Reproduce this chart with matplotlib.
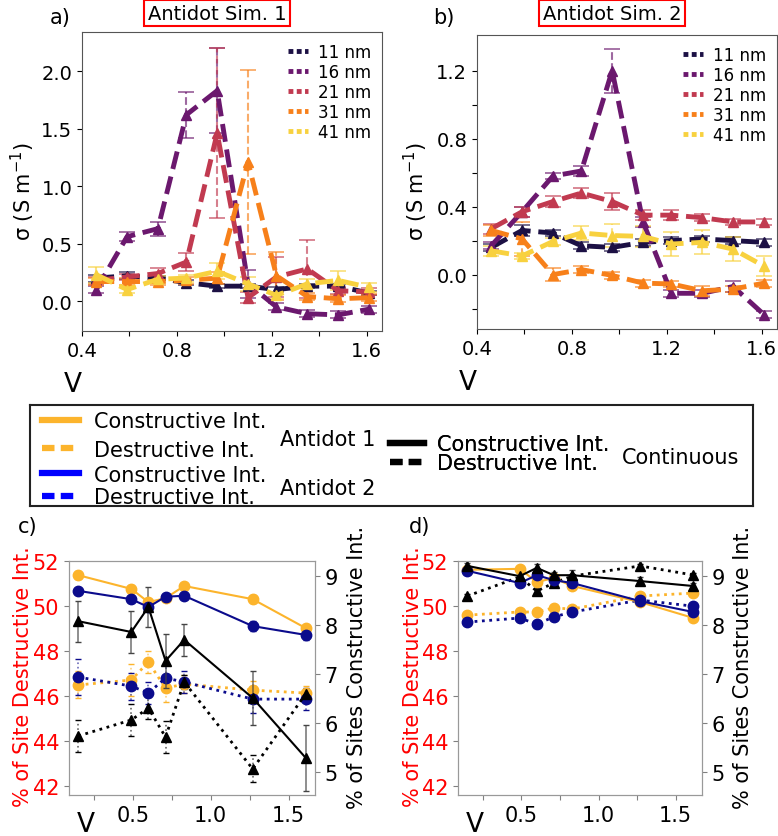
import matplotlib
matplotlib.use("Agg")
import matplotlib.pyplot as plt
from matplotlib.lines import Line2D

W, H = 778, 837

# ---------- panels a) b) : sigma vs bias ----------
volts = [0.46, 0.59, 0.72, 0.84, 0.97, 1.10, 1.22, 1.35, 1.48, 1.61]
widths = ['11 nm', '16 nm', '21 nm', '31 nm', '41 nm']
width_colors = ['#1c1044', '#6b186e', '#c13a50', '#f7801a', '#f8d13f']

# Antidot Sim. 1
s1_11 = [0.20, 0.22, 0.20, 0.16, 0.13, 0.13, 0.10, 0.13, 0.13, 0.07]
s1_16 = [0.10, 0.56, 0.63, 1.62, 1.83, 0.15, -0.05, -0.11, -0.12, -0.07]
s1_21 = [0.18, 0.21, 0.24, 0.34, 1.46, 0.03, 0.21, 0.28, 0.09, 0.08]
s1_31 = [0.17, 0.17, 0.17, 0.18, 0.20, 1.21, 0.22, 0.04, 0.02, 0.03]
s1_41 = [0.23, 0.10, 0.19, 0.20, 0.26, 0.15, 0.05, 0.15, 0.18, 0.12]
s1_11_err = [0.03, 0.03, 0.02, 0.02, 0.02, 0.02, 0.02, 0.02, 0.02, 0.02]
s1_16_err = [0.03, 0.04, 0.06, 0.20, 0.37, 0.12, 0.03, 0.03, 0.03, 0.03]
s1_21_err = [0.03, 0.03, 0.05, 0.08, 0.74, 0.05, 0.17, 0.25, 0.03, 0.03]
s1_31_err = [0.03, 0.03, 0.03, 0.03, 0.05, 0.80, 0.21, 0.03, 0.03, 0.03]
s1_41_err = [0.07, 0.03, 0.03, 0.03, 0.07, 0.06, 0.03, 0.04, 0.08, 0.04]

# Antidot Sim. 2
s2_11 = [0.16, 0.26, 0.245, 0.17, 0.16, 0.19, 0.20, 0.21, 0.20, 0.19]
s2_16 = [0.17, 0.37, 0.58, 0.61, 1.20, 0.31, -0.11, -0.11, -0.07, -0.235]
s2_21 = [0.27, 0.37, 0.43, 0.48, 0.43, 0.35, 0.35, 0.335, 0.31, 0.31]
s2_31 = [0.26, 0.21, 0.0, 0.03, -0.005, -0.05, -0.055, -0.095, -0.085, -0.05]
s2_41 = [0.14, 0.11, 0.195, 0.245, 0.23, 0.225, 0.18, 0.19, 0.15, 0.05]
s2_11_err = [0.02, 0.03, 0.02, 0.02, 0.02, 0.02, 0.02, 0.02, 0.02, 0.02]
s2_16_err = [0.02, 0.03, 0.02, 0.03, 0.13, 0.03, 0.02, 0.02, 0.03, 0.02]
s2_21_err = [0.03, 0.03, 0.03, 0.03, 0.05, 0.03, 0.03, 0.02, 0.02, 0.02]
s2_31_err = [0.03, 0.10, 0.04, 0.02, 0.02, 0.02, 0.02, 0.03, 0.02, 0.02]
s2_41_err = [0.03, 0.02, 0.02, 0.04, 0.07, 0.06, 0.07, 0.07, 0.07, 0.06]

# ---------- panels c) d) : % of sites ----------
pos_v = [0.15, 0.49, 0.60, 0.71, 0.83, 1.27, 1.61]
ad1_color = '#fcb42c'
ad2_color = '#0b0b8c'
cont_color = 'black'

# c) constructive (right axis)
c_ad1_con = [9.01, 8.73, 8.46, 8.54, 8.79, 8.52, 7.93]
c_ad2_con = [8.69, 8.52, 8.36, 8.57, 8.59, 7.97, 7.79]
c_cont_con = [8.07, 7.85, 8.36, 7.26, 7.69, 6.50, 5.28]
c_ad1_con_err = [0.08, 0.08, 0.06, 0.06, 0.05, 0.08, 0.06]
c_ad2_con_err = [0.06, 0.05, 0.06, 0.05, 0.05, 0.10, 0.10]
c_cont_con_err = [0.42, 0.42, 0.40, 0.55, 0.33, 0.55, 0.67]
# c) destructive (left axis)
c_ad1_des = [46.50, 46.72, 47.52, 46.36, 46.54, 46.27, 46.14]
c_ad2_des = [46.85, 46.45, 46.14, 46.81, 46.63, 45.87, 45.87]
c_cont_des = [44.23, 44.94, 45.47, 44.18, 46.63, 42.76, 46.10]
c_ad1_des_err = [0.6, 0.7, 0.5, 0.6, 0.4, 0.4, 0.3]
c_ad2_des_err = [0.8, 0.6, 0.5, 0.6, 0.5, 0.6, 0.5]
c_cont_des_err = [0.7, 0.7, 0.5, 0.7, 0.3, 0.6, 0.2]

# d) constructive (right axis)
d_ad1_con = [9.12, 9.14, 8.87, 8.95, 8.79, 8.46, 8.14]
d_ad2_con = [9.10, 8.85, 9.01, 8.91, 8.85, 8.48, 8.26]
d_cont_con = [9.20, 8.99, 9.16, 9.01, 9.01, 8.89, 8.79]
d_ad1_con_err = [0.04, 0.04, 0.04, 0.04, 0.04, 0.04, 0.04]
d_ad2_con_err = [0.04, 0.04, 0.04, 0.04, 0.04, 0.04, 0.04]
d_cont_con_err = [0.06, 0.06, 0.08, 0.07, 0.10, 0.08, 0.07]
# d) destructive (left axis)
d_ad1_des = [49.61, 49.75, 49.75, 49.93, 49.88, 50.46, 50.59]
d_ad2_des = [49.30, 49.48, 49.21, 49.53, 49.75, 50.28, 50.01]
d_cont_des = [50.46, 51.31, 50.68, 51.04, 51.35, 51.80, 51.40]
d_ad1_des_err = [0.08, 0.08, 0.08, 0.08, 0.08, 0.08, 0.08]
d_ad2_des_err = [0.08, 0.08, 0.08, 0.08, 0.08, 0.08, 0.08]
d_cont_des_err = [0.1, 0.1, 0.1, 0.1, 0.1, 0.1, 0.1]


def px_axes(left, top, right, bottom):
    return [left / W, 1 - bottom / H, (right - left) / W, (bottom - top) / H]


""" sigma panel with dashed errorbar lines
"""
def plot_sigma(ax, series, errors, ylim, ymajor, ylabels, ylab_x):
    for vals, errs, col in zip(series, errors, width_colors):
        eb = ax.errorbar(volts, vals, yerr=errs, color=col, ls='--', lw=3.5,
                         marker='^', ms=7, ecolor=col, elinewidth=1.5,
                         capsize=6, capthick=1.3)
        eb[2][0].set_linestyle('--')
        eb[2][0].set_alpha(0.65)
        for cap in eb[1]:
            cap.set_alpha(0.65)
    ax.set_xlim(0.4, 1.665)
    ax.set_ylim(*ylim)
    ax.set_xticks([0.4, 0.6, 0.8, 1.0, 1.2, 1.4, 1.6])
    ax.set_xticklabels(['0.4', '', '0.8', '', '1.2', '', '1.6'])
    ax.set_yticks(ymajor)
    ax.set_yticklabels(ylabels)
    ax.tick_params(labelsize=14)
    for sp in ax.spines.values():
        sp.set_color('#555555')
    ax.set_ylabel(r'$\mathrm{\sigma}$ (S m$^{-1}$)', fontsize=15)
    ax.yaxis.set_label_coords(ylab_x, 0.47)
    ax.set_xlabel('V', fontsize=19)
    ax.xaxis.set_label_coords(-0.03, -0.135)
    handles = [Line2D([], [], color=c, lw=3.5, ls=(0, (1, 0.7))) for c in width_colors]
    ax.legend(handles, widths, loc='upper right', fontsize=12, frameon=False,
              handlelength=1.2, labelspacing=0.12, handletextpad=0.6,
              borderaxespad=0.25)


""" percentage panel: destructive on the left axis, constructive on a twin
"""
def plot_sites(ax, con, con_err, des, des_err, lab_left, lab_right):
    cols = [ad1_color, ad2_color, cont_color]
    marks = ['o', 'o', '^']
    for vals, errs, col, mk in zip(des, des_err, cols, marks):
        eb = ax.errorbar(pos_v, vals, yerr=errs, color=col, ls=':', lw=2,
                         marker=mk, ms=7.5, ecolor=col, elinewidth=1.2, capsize=2.5)
        eb[2][0].set_linestyle(':')
        eb[2][0].set_alpha(0.6)
    ax2 = ax.twinx()
    for vals, errs, col, mk in zip(con, con_err, cols, marks):
        ecol = '#444444' if col == 'black' else col
        eb = ax2.errorbar(pos_v, vals, yerr=errs, color=col, ls='-', lw=1.5,
                          marker=mk, ms=7.5, ecolor=ecol, elinewidth=1.2, capsize=2.5)
        eb[2][0].set_alpha(0.7)
    ax.set_xlim(0.09, 1.67)
    ax.set_ylim(41.6, 52.02)
    ax2.set_ylim(4.52, 9.3)
    ax.set_xticks([0.25, 0.5, 0.75, 1.0, 1.25, 1.5])
    ax.set_xticklabels(['', '0.5', '', '1.0', '', '1.5'])
    ax.set_yticks([42, 44, 46, 48, 50, 52])
    ax2.set_yticks([5, 6, 7, 8, 9])
    ax.tick_params(labelsize=15, color='gray')
    ax.tick_params(axis='y', labelcolor='red')
    ax2.tick_params(labelsize=15, color='gray')
    for a in (ax, ax2):
        for sp in a.spines.values():
            sp.set_color('#999999')
    ax.set_ylabel('% of Site Destructive Int.', fontsize=15, color='red')
    ax.yaxis.set_label_coords(lab_left, 0.51)
    ax2.set_ylabel('% of Sites Constructive Int.', fontsize=15)
    ax2.yaxis.set_label_coords(lab_right, 0.55)
    ax.set_xlabel('V', fontsize=19)
    ax.xaxis.set_label_coords(0.07, -0.07)


fig = plt.figure(figsize=(W / 100, H / 100), dpi=100)

ax_a = fig.add_axes(px_axes(82, 33, 382, 332))
plot_sigma(ax_a, [s1_11, s1_16, s1_21, s1_31, s1_41],
           [s1_11_err, s1_16_err, s1_21_err, s1_31_err, s1_41_err],
           (-0.26, 2.34), [0.0, 0.5, 1.0, 1.5, 2.0],
           ['0.0', '0.5', '1.0', '1.5', '2.0'], -0.15)

ax_b = fig.add_axes(px_axes(477, 36, 777, 330))
plot_sigma(ax_b, [s2_11, s2_16, s2_21, s2_31, s2_41],
           [s2_11_err, s2_16_err, s2_21_err, s2_31_err, s2_41_err],
           (-0.32, 1.41), [-0.2, 0.0, 0.2, 0.4, 0.6, 0.8, 1.0, 1.2],
           ['', '0.0', '', '0.4', '', '0.8', '', '1.2'], -0.157)

box = dict(boxstyle='square,pad=0.2', fc='white', ec='red', lw=1.5)
fig.text(217 / W, 1 - 14 / H, 'Antidot Sim. 1', fontsize=14, ha='center', va='center', bbox=box)
fig.text(612 / W, 1 - 14 / H, 'Antidot Sim. 2', fontsize=14, ha='center', va='center', bbox=box)
fig.text(60 / W, 1 - 18 / H, 'a)', fontsize=15, ha='center', va='center')
fig.text(444 / W, 1 - 18 / H, 'b)', fontsize=15, ha='center', va='center')
fig.text(28 / W, 1 - 527 / H, 'c)', fontsize=15, ha='center', va='center')
fig.text(420 / W, 1 - 527 / H, 'd)', fontsize=15, ha='center', va='center')

# ---------- shared legend box ----------
lax = fig.add_axes(px_axes(30, 406, 753, 507))
lax.set_xticks([])
lax.set_yticks([])
for sp in lax.spines.values():
    sp.set_color('#222222')
    sp.set_linewidth(1.5)
lax.patch.set_alpha(0)

dash = (0, (2, 1))
leg_labels = ['Constructive Int.', 'Destructive Int.']
groups = [
    ([ad1_color, ad1_color], (0.0166, 0.70), 1.78, 0.72, 0.42),
    (['#0000ff', '#0000ff'], (0.0166, 0.20), 1.78, 0.72, 0.10),
    (['black', 'black'], (0.498, 0.52), 1.63, 0.63, -0.04),
]
for cols, anchor, hl, htp, ls in groups:
    hs = [Line2D([], [], color=cols[0], lw=4.5),
          Line2D([], [], color=cols[1], lw=4.5, ls=dash)]
    leg = lax.legend(hs, leg_labels, loc='center left', bbox_to_anchor=anchor,
                     frameon=False, fontsize=15, handlelength=hl,
                     handletextpad=htp, labelspacing=ls, borderpad=0,
                     borderaxespad=0)
    lax.add_artist(leg)
lax.text(0.346, 0.663, 'Antidot 1', fontsize=15, va='center', transform=lax.transAxes)
lax.text(0.346, 0.18, 'Antidot 2', fontsize=15, va='center', transform=lax.transAxes)
lax.text(0.819, 0.485, 'Continuous', fontsize=15, va='center', transform=lax.transAxes)

# ---------- panels c) d) ----------
ax_c = fig.add_axes(px_axes(69, 562, 315, 796))
plot_sites(ax_c, [c_ad1_con, c_ad2_con, c_cont_con],
           [c_ad1_con_err, c_ad2_con_err, c_cont_con_err],
           [c_ad1_des, c_ad2_des, c_cont_des],
           [c_ad1_des_err, c_ad2_des_err, c_cont_des_err], -0.146, 1.13)

ax_d = fig.add_axes(px_axes(458, 562, 702, 796))
plot_sites(ax_d, [d_ad1_con, d_ad2_con, d_cont_con],
           [d_ad1_con_err, d_ad2_con_err, d_cont_con_err],
           [d_ad1_des, d_ad2_des, d_cont_des],
           [d_ad1_des_err, d_ad2_des_err, d_cont_des_err], -0.143, 1.127)

fig.savefig('out.png', dpi=100)
